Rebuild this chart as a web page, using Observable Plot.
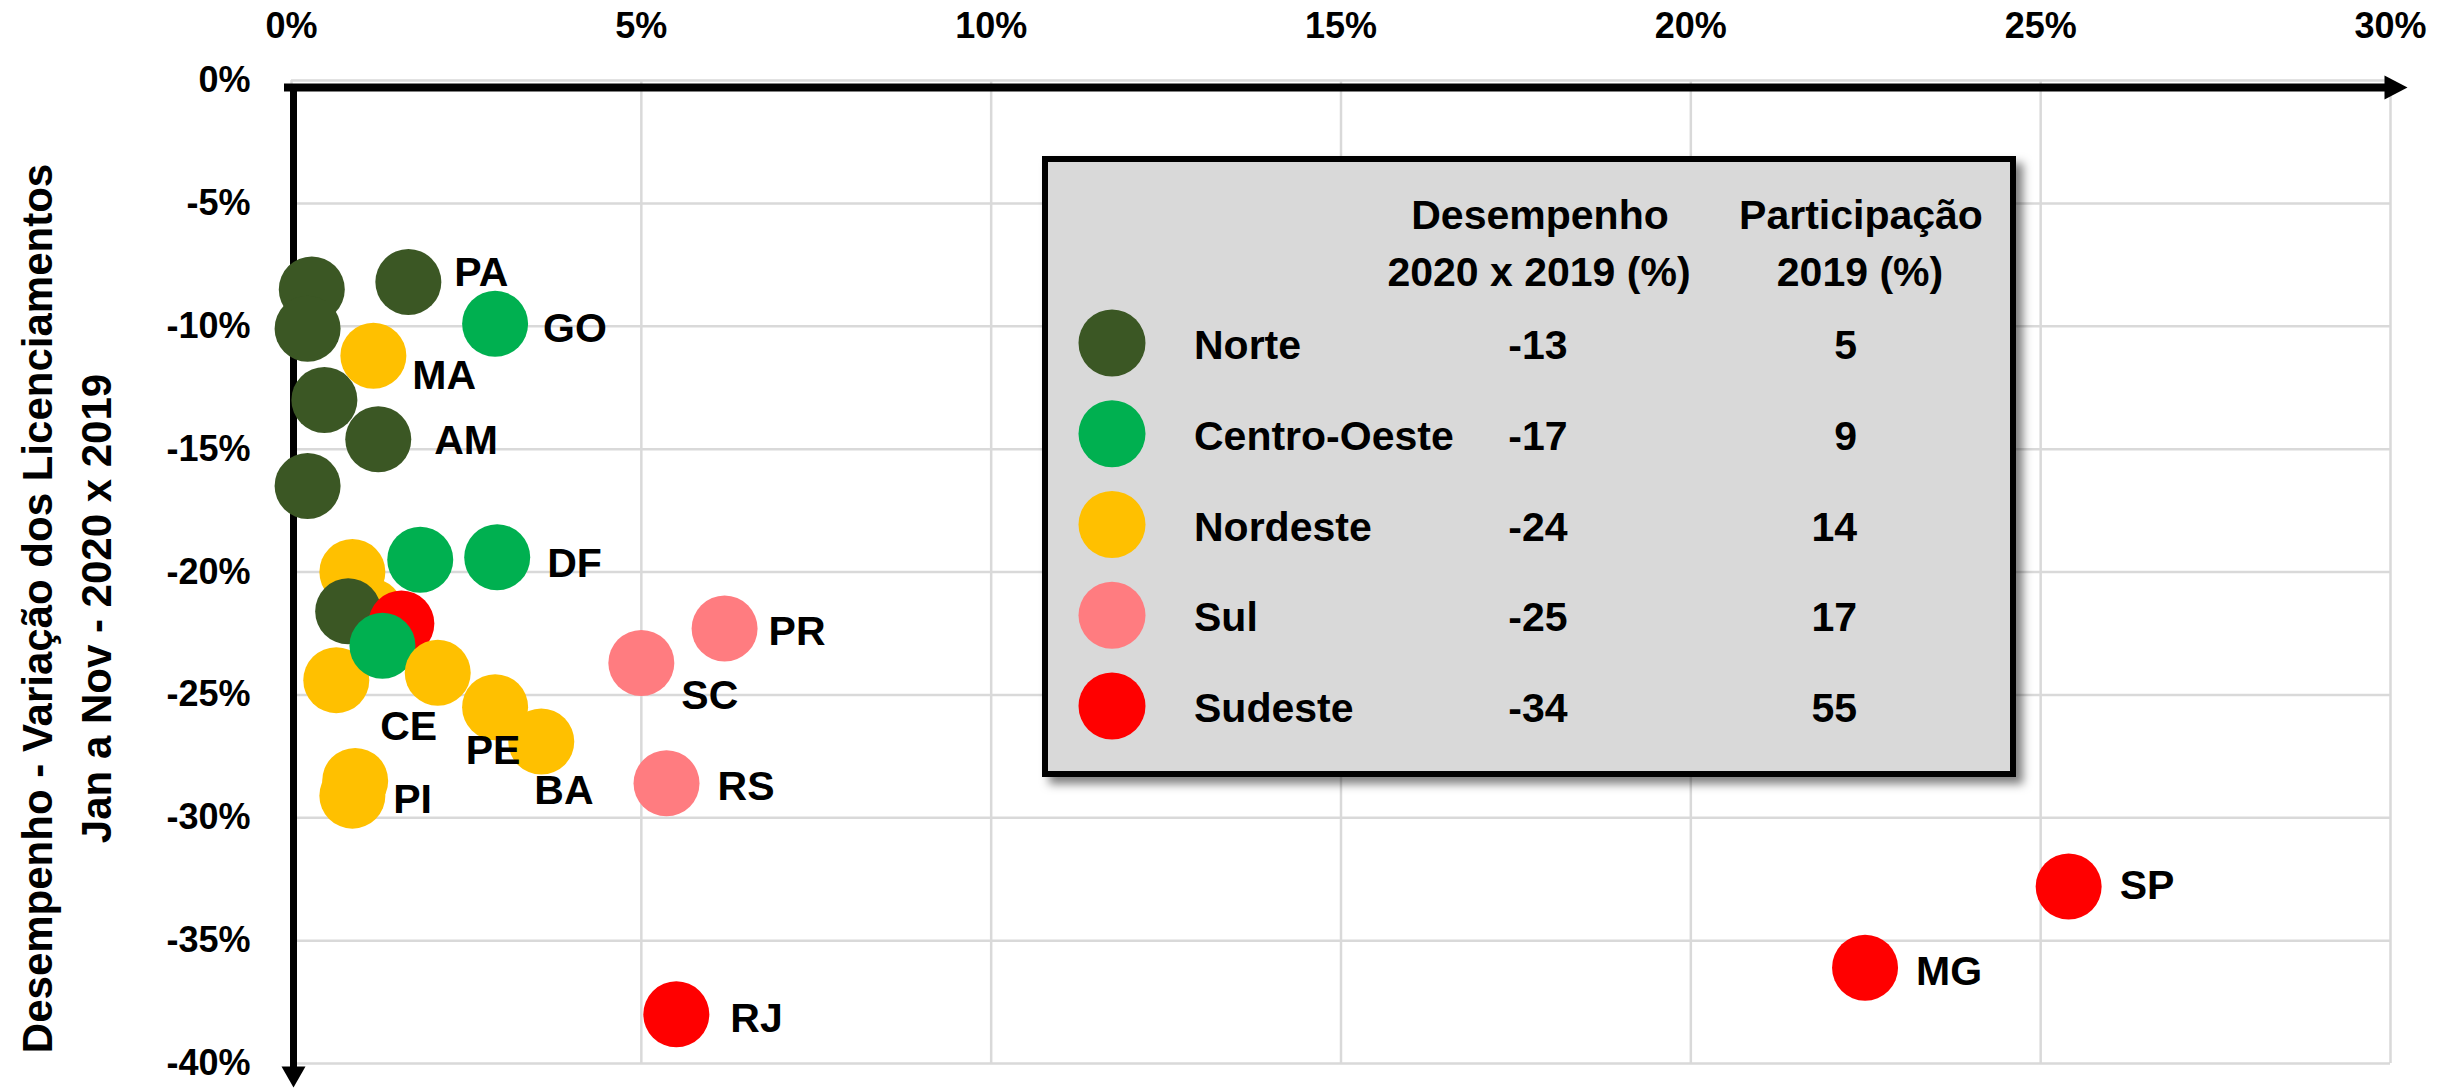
<!DOCTYPE html>
<html>
<head>
<meta charset="utf-8">
<script src="https://cdn.jsdelivr.net/npm/d3@7"></script>
<script src="https://cdn.jsdelivr.net/npm/@observablehq/plot@0.6"></script>
<style>
  html, body { margin: 0; padding: 0; background: #fff; }
  #chart { width: 2446px; height: 1088px; }
</style>
</head>
<body>
<div id="chart"></div>
<script>
// ---------- DATA ----------
const regioes = ["Norte", "Centro-Oeste", "Nordeste", "Sul", "Sudeste"];
const coresRegioes = ["#3b5724", "#00b050", "#ffc000", "#ff7c80", "#ff0000"];
const desempenhoRegiao = [-13, -17, -24, -25, -34];
const participacaoRegiao = [5, 9, 14, 17, 55];

// one entry per state (Unidade da Federação), in drawing order
const ufRegiao = [
  "Norte", "Norte", "Norte", "Norte", "Norte", "Norte",
  "Centro-Oeste", "Nordeste", "Centro-Oeste", "Centro-Oeste",
  "Nordeste", "Nordeste", "Norte", "Sudeste", "Nordeste", "Centro-Oeste",
  "Nordeste", "Nordeste", "Nordeste", "Nordeste", "Nordeste",
  "Sul", "Sul", "Sul", "Sudeste", "Sudeste", "Sudeste"
];
const ufSigla = [
  "", "", "PA", "", "AM", "",
  "GO", "MA", "", "DF",
  "", "", "", "", "", "",
  "CE", "PE", "BA", "PI", "",
  "SC", "PR", "RS", "RJ", "MG", "SP"
];
// Participação 2019 (%)
const ufParticipacao = [
  0.29, 0.23, 1.67, 0.47, 1.24, 0.23,
  2.91, 1.17, 1.84, 2.94,
  0.87, 1.13, 0.81, 1.57, 0.64, 1.30,
  2.09, 2.91, 3.57, 0.91, 0.87,
  5.00, 6.19, 5.36, 5.50, 22.49, 25.40
];
// Desempenho 2020 x 2019 (%)
const ufDesempenho = [
  -8.5, -10.1, -8.2, -13.0, -14.6, -16.5,
  -9.9, -11.2, -19.5, -19.4,
  -20.0, -21.6, -21.6, -22.1, -24.4, -23.0,
  -24.1, -25.5, -26.9, -28.5, -29.1,
  -23.7, -22.3, -28.6, -38.0, -36.1, -32.8
];

const xTicks = [0, 5, 10, 15, 20, 25, 30];
const xTickLabels = ["0%", "5%", "10%", "15%", "20%", "25%", "30%"];
const yTicks = [0, -5, -10, -15, -20, -25, -30, -35, -40];
const yTickLabels = ["0%", "-5%", "-10%", "-15%", "-20%", "-25%", "-30%", "-35%", "-40%"];
const yTitulo = ["Desempenho - Variação dos Licenciamentos", "Jan a Nov - 2020 x 2019"];
const legendaCabecalho1 = ["Desempenho", "2020 x 2019 (%)"];
const legendaCabecalho2 = ["Participação", "2019 (%)"];

// ---------- STYLE ----------
const FONT = "'Liberation Sans', Arial, sans-serif";
// label placement (pixel offsets from the dot centre)
const rotuloPos = {
  PA: [46, -11, "start"], GO: [48, 3, "start"], MA: [39, 18, "start"], AM: [56, 0, "start"],
  DF: [50, 5, "start"], CE: [-29, 52, "middle"], PE: [-2, 42, "middle"], BA: [-7, 47, "start"],
  PI: [38, 17, "start"], PR: [44, 1, "start"], SC: [40, 31, "start"], RS: [51, 2, "start"],
  RJ: [54, 3, "start"], MG: [51, 2, "start"], SP: [51, -3, "start"]
};

const pontos = ufSigla.map((s, i) => ({
  sigla: s, regiao: ufRegiao[i], x: ufParticipacao[i], y: ufDesempenho[i]
}));

const arrowRight = { draw(ctx) { ctx.moveTo(17, 0); ctx.lineTo(-6, -12); ctx.lineTo(-6, 12); ctx.closePath(); } };
const arrowDown  = { draw(ctx) { ctx.moveTo(0, 24); ctx.lineTo(-12, 3); ctx.lineTo(12, 3); ctx.closePath(); } };

const labelMarks = pontos
  .filter(p => p.sigla)
  .map(p => Plot.text([p], {
    x: "x", y: "y", text: "sigla",
    dx: rotuloPos[p.sigla][0], dy: rotuloPos[p.sigla][1] + 2,
    textAnchor: rotuloPos[p.sigla][2], lineAnchor: "middle",
    fontSize: 41, fontWeight: "bold", fill: "#000"
  }));

const svg = Plot.plot({
  width: 2446, height: 1088,
  marginLeft: 291, marginRight: 56, marginTop: 80, marginBottom: 25,
  style: { fontFamily: FONT, background: "#fff", color: "#000", overflow: "visible" },
  x: { domain: [0, 30] },
  y: { domain: [-40, 0] },
  color: { domain: regioes, range: coresRegioes },
  marks: [
    Plot.gridX({ ticks: xTicks, stroke: "#d9d9d9", strokeOpacity: 1, strokeWidth: 2.5 }),
    Plot.gridY({ ticks: yTicks, stroke: "#d9d9d9", strokeOpacity: 1, strokeWidth: 2.5 }),
    Plot.axisX({
      anchor: "top", ticks: xTicks, tickFormat: d => xTickLabels[xTicks.indexOf(d)],
      tickSize: 0, tickPadding: 43, fontSize: 36, fontWeight: "bold", label: null
    }),
    Plot.axisY({
      anchor: "left", ticks: yTicks, tickFormat: d => yTickLabels[yTicks.indexOf(d)],
      tickSize: 0, tickPadding: 41, fontSize: 36, fontWeight: "bold", label: null
    }),
    // black axis arrows
    Plot.ruleY([0], { dy: 7, stroke: "#000", strokeWidth: 8, insetLeft: -7 }),
    Plot.dot([0], { x: 30, y: 0, dy: 7, r: 1, symbol: arrowRight, fill: "#000" }),
    Plot.ruleX([0], { dx: 2, stroke: "#000", strokeWidth: 7, insetTop: 4, insetBottom: -6 }),
    Plot.dot([0], { x: 0, y: -40, dx: 2, r: 1, symbol: arrowDown, fill: "#000" }),
    // y title
    Plot.text([yTitulo.join("\n")], {
      text: d => d, frameAnchor: "left", dx: 62 - 291, dy: 608 - 571.5, rotate: -90,
      fontSize: 42, fontWeight: "bold", lineHeight: 1.405, textAnchor: "middle", lineAnchor: "middle", fill: "#000"
    }),
    // states
    Plot.dot(pontos, { x: "x", y: "y", r: 33, fill: "regiao" }),
    ...labelMarks
  ]
});

// ---------- legend box (table) ----------
const g = d3.select(svg).append("g")
  .attr("font-family", FONT).attr("font-weight", "bold").attr("fill", "#000");
g.append("rect")
  .attr("x", 1045).attr("y", 159).attr("width", 968).attr("height", 615)
  .attr("fill", "#d9d9d9").attr("stroke", "#000").attr("stroke-width", 6)
  .style("filter", "drop-shadow(7px 7px 5px rgba(0,0,0,0.5))");
const hdr = g.append("g").attr("font-size", 41).attr("text-anchor", "middle");
hdr.append("text").attr("x", 1540).attr("y", 229).text(legendaCabecalho1[0]);
hdr.append("text").attr("x", 1539).attr("y", 286).text(legendaCabecalho1[1]);
hdr.append("text").attr("x", 1861).attr("y", 229).text(legendaCabecalho2[0]);
hdr.append("text").attr("x", 1860).attr("y", 286).text(legendaCabecalho2[1]);

const color = svg.scale("color");
regioes.forEach((r, i) => {
  const cy = 343 + i * 90.75;
  const row = g.append("g").attr("font-size", 41);
  row.append("circle").attr("cx", 1112).attr("cy", cy).attr("r", 33.5).attr("fill", color.apply(r));
  row.append("text").attr("x", 1194).attr("y", cy + 16).attr("text-anchor", "start").text(r);
  row.append("text").attr("x", 1538).attr("y", cy + 16).attr("text-anchor", "middle").text(desempenhoRegiao[i]);
  row.append("text").attr("x", 1857).attr("y", cy + 16).attr("text-anchor", "end").text(participacaoRegiao[i]);
});

document.getElementById("chart").appendChild(svg);
</script>
</body>
</html>
